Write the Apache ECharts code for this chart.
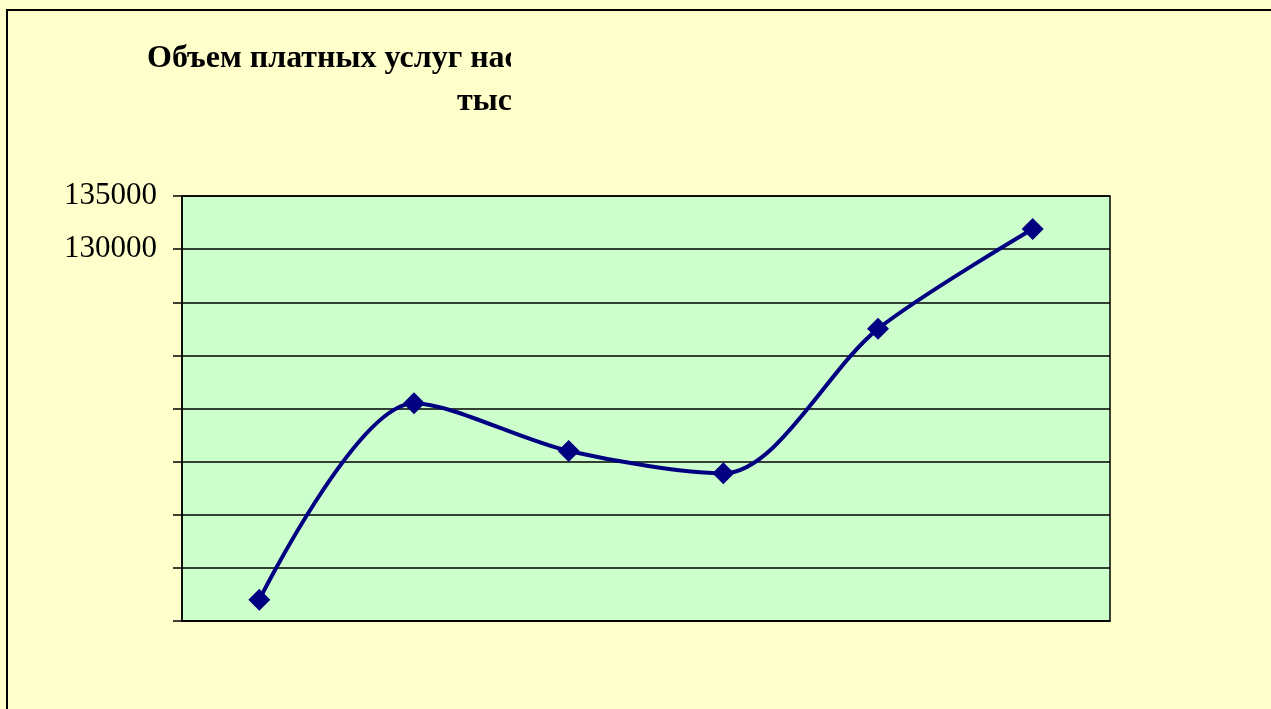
<!DOCTYPE html>
<html>
<head>
<meta charset="utf-8">
<script src="https://cdn.jsdelivr.net/npm/echarts@6/dist/echarts.min.js"></script>
<style>
  html, body { margin: 0; padding: 0; background: #ffffcc; }
  #chart { width: 1271px; height: 709px; }
</style>
</head>
<body>
<div id="chart"></div>
<script>
// данные
const categories = ['2002', '2003', '2004', '2005', '2006', '2007']
const values = [97000, 115500, 111000, 108900, 122500, 131900]
const yTicksShown = [130000, 135000]
const titleLine1 = 'Объем платных услуг населению'
const titleLine2 = 'тыс. руб.'

const chart = echarts.init(document.getElementById('chart'))

const option = {
  backgroundColor: '#ffffcc',
  animation: false,
  grid: {
    left: 182,
    top: 196,
    width: 928,
    height: 425,
    show: true,
    backgroundColor: '#ccffcc',
    borderColor: '#000',
    borderWidth: 1.5,
  },
  xAxis: {
    type: 'category',
    data: categories,
    boundaryGap: true,
    axisLine: { lineStyle: { color: '#000', width: 1.5 } },
    axisTick: { inside: true, length: 10, interval: 0, lineStyle: { color: '#000', width: 1.5 } },
    axisLabel: { show: false },
    splitLine: { show: false },
  },
  yAxis: {
    type: 'value',
    min: 95000,
    max: 135000,
    interval: 5000,
    axisLine: { show: true, lineStyle: { color: '#000', width: 1.5 } },
    axisTick: { show: true, length: 9, lineStyle: { color: '#000', width: 1.5 } },
    // подписи только у двух верхних делений
    axisLabel: {
      margin: 25,
      color: '#000',
      fontFamily: 'Liberation Serif',
      fontSize: 31,
      formatter: v => (yTicksShown.indexOf(v) >= 0 ? String(v) : ''),
    },
    splitLine: { show: true, lineStyle: { color: '#000', width: 1.5 } },
  },
  series: [
    {
      type: 'line',
      data: values,
      smooth: 0.3,
      symbol: 'diamond',
      symbolSize: 22,
      itemStyle: { color: '#000080' },
      lineStyle: { color: '#000080', width: 4 },
      z: 3,
    },
  ],
  graphic: [
    // рамка области диаграммы
    {
      type: 'rect',
      shape: { x: 7, y: 10, width: 1400, height: 900 },
      style: { fill: null, stroke: '#000', lineWidth: 2 },
      z: 10,
    },
    {
      type: 'text',
      left: 147,
      top: 43,
      style: {
        text: titleLine1,
        fill: '#000',
        font: 'bold 32px "Liberation Serif"',
      },
      z: 5,
    },
    {
      type: 'text',
      left: 457,
      top: 86,
      style: {
        text: titleLine2,
        fill: '#000',
        font: 'bold 32px "Liberation Serif"',
      },
      z: 5,
    },
    // заголовок обрезан справа
    {
      type: 'rect',
      shape: { x: 511, y: 30, width: 800, height: 100 },
      style: { fill: '#ffffcc' },
      z: 6,
    },
  ],
}

chart.setOption(option)
</script>
</body>
</html>
